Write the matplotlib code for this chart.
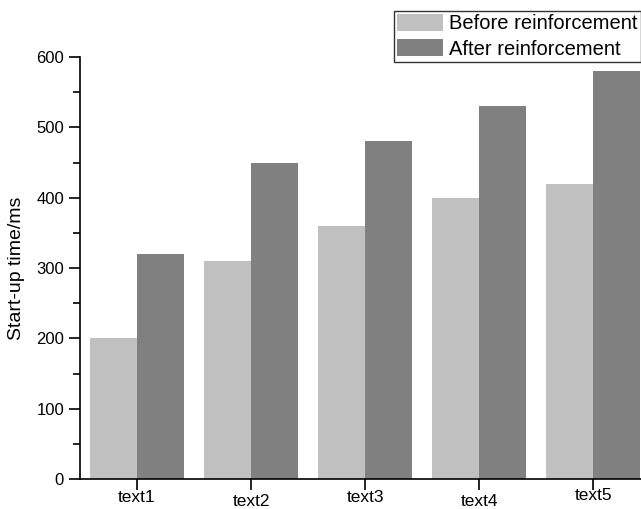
import numpy as np
import matplotlib
matplotlib.use('Agg')
from matplotlib import pyplot as plt
from matplotlib.transforms import ScaledTranslation

# datos
categorias = ['text1', 'text2', 'text3', 'text4', 'text5']
antes = [200, 310, 360, 400, 420]
despues = [320, 450, 480, 530, 580]

plt.rcParams['font.family'] = ['Liberation Sans', 'DejaVu Sans']

fig = plt.figure(figsize=(6.41, 5.09), dpi=100)
ax = fig.add_axes([80/641, 1 - 479/509, 1 - 80/641 + 0.002, (479 - 57)/509])

x = np.arange(1, len(categorias) + 1)
w = 0.41
ax.bar(x - w/2, antes, w, color='#c0c0c0', label='Before reinforcement')
ax.bar(x + w/2, despues, w, color='#808080', label='After reinforcement')

ax.set_xlim(0.5, 5.43)
ax.set_ylim(0, 600)
ax.set_xticks(x)
ax.set_xticklabels(categorias, fontsize=12.5)
ax.set_yticks(np.arange(0, 601, 100))
ax.set_yticks(np.arange(50, 600, 100), minor=True)
ax.tick_params(axis='y', which='major', length=8, width=1.2, labelsize=12, direction='out')
ax.tick_params(axis='y', which='minor', length=5, width=1.2, direction='out')
ax.tick_params(axis='x', which='major', length=8, width=1.2, direction='out', pad=1)
ax.set_ylabel('Start-up time/ms', fontsize=14, labelpad=8)

# las etiquetas del eje x no estan alineadas en el original
desplaz = [1, -2, 1, -2, 3]
for lab, dy in zip(ax.get_xticklabels(), desplaz):
    lab.set_transform(lab.get_transform() + ScaledTranslation(0, dy/100, fig.dpi_scale_trans))

for s in ['top', 'right']:
    ax.spines[s].set_visible(False)
for s in ['left', 'bottom']:
    ax.spines[s].set_linewidth(1.2)

leg = fig.legend(loc='upper right', bbox_to_anchor=(1.0, 1 - 11/509), fontsize=14.5,
                 frameon=True, fancybox=False, handlelength=2.3, handleheight=0.9,
                 handletextpad=0.3, borderpad=0.15, labelspacing=0.3, borderaxespad=0)
leg.get_frame().set_edgecolor('black')
leg.get_frame().set_linewidth(1.0)

fig.savefig('out.png', dpi=100)
